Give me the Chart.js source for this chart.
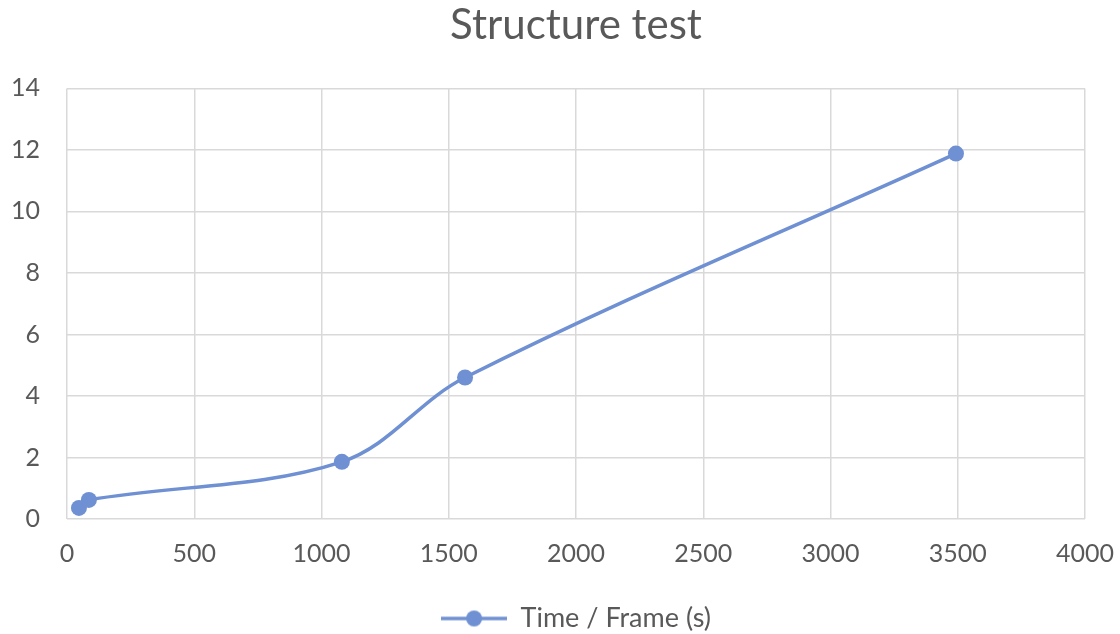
<!DOCTYPE html>
<html>
<head>
<meta charset="utf-8">
<script src="https://cdn.jsdelivr.net/npm/chart.js@4/dist/chart.umd.min.js"></script>
<style>
  html, body { margin: 0; padding: 0; background: #fff; }
  #wrap { width: 1120px; height: 634px; }
</style>
</head>
<body>
<div id="wrap"><canvas id="chart"></canvas></div>
<script>
const seriesName = 'Time / Frame (s)';
const frameCounts = [47, 86, 1080, 1564, 3493];
const timePerFrame = [0.36, 0.62, 1.86, 4.6, 11.88];

const lineColor = '#6f90d2';
const textColor = '#595959';
const tickFont = { family: 'Lato', size: 25 };

// legend marker: short line with a dot in the middle
function legendMarker() {
    const c = document.createElement('canvas');
    c.width = 66;
    c.height = 18;
    const g = c.getContext('2d');
    g.strokeStyle = lineColor;
    g.lineWidth = 3.5;
    g.beginPath();
    g.moveTo(0, 9);
    g.lineTo(66, 9);
    g.stroke();
    g.fillStyle = lineColor;
    g.beginPath();
    g.arc(33, 9, 8, 0, Math.PI * 2);
    g.fill();
    return c;
}

const points = frameCounts.map((x, i) => ({ x: x, y: timePerFrame[i] }));

new Chart(document.getElementById('chart'), {
    type: 'line',
    data: {
        datasets: [{
            label: seriesName,
            data: points,
            borderColor: lineColor,
            backgroundColor: lineColor,
            borderWidth: 3.5,
            tension: 0.35,
            pointRadius: 8,
            pointHoverRadius: 8,
            pointBackgroundColor: lineColor,
            pointBorderWidth: 0,
            pointStyle: 'circle'
        }]
    },
    options: {
        responsive: true,
        maintainAspectRatio: false,
        animation: false,
        layout: { padding: { left: 0, right: 0, top: 0, bottom: -8 } },
        plugins: {
            title: {
                display: true,
                fullSize: false, // centre over the plot, like the original
                text: 'Structure test',
                color: textColor,
                font: { family: 'Lato', size: 42, weight: 'normal' },
                padding: { top: 0, bottom: 38 }
            },
            legend: {
                position: 'bottom',
                fullSize: false,
                labels: {
                    usePointStyle: true,
                    pointStyle: legendMarker(),
                    pointStyleWidth: 66,
                    color: textColor,
                    font: { family: 'Lato', size: 27 },
                    padding: 16
                }
            },
            tooltip: { enabled: false }
        },
        scales: {
            x: {
                type: 'linear',
                min: 0,
                max: 4000,
                ticks: {
                    stepSize: 500,
                    color: textColor,
                    font: tickFont,
                    padding: 20,
                    callback: (v) => String(v)
                },
                grid: { color: '#d9d9d9', lineWidth: 1.5, drawTicks: false },
                border: { display: false },
                // room on the right for the last tick label
                afterFit: (scale) => { scale.paddingRight = 35; scale.paddingLeft = 0; }
            },
            y: {
                min: 0,
                max: 14,
                ticks: { stepSize: 2, color: textColor, font: tickFont, padding: 27 },
                grid: { color: '#d9d9d9', lineWidth: 1.5, drawTicks: false },
                border: { display: false },
                afterFit: (scale) => { scale.width = 67; }
            }
        }
    }
});
</script>
</body>
</html>
